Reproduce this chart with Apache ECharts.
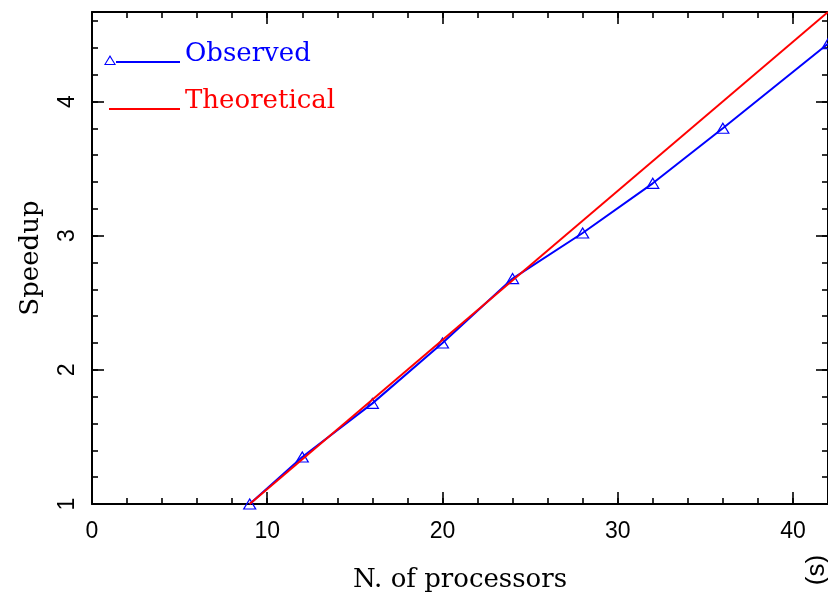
<!DOCTYPE html>
<html><head><meta charset="utf-8">
<script src="https://cdn.jsdelivr.net/npm/echarts@6/dist/echarts.min.js"></script>
<style>html,body{margin:0;padding:0;background:#fff}#c{width:828px;height:598px}</style>
</head><body><div id="c"></div>
<script>
// ---- data ----
const processors = [9, 12, 16, 20, 24, 28, 32, 36, 42];
const observed = [1.0, 1.35, 1.75, 2.2, 2.68, 3.02, 3.39, 3.8, 4.43];
const theoreticalN = [9, 42];
const theoretical = [1.0, 4.667];
const xTickLabels = ['0', '10', '20', '30', '40'];
const yTickLabels = ['1', '2', '3', '4'];
const seriesNames = ['Observed', 'Theoretical'];

const BLUE = '#0000ff', RED = '#ff0000';
const SANS = 'Liberation Sans', SERIF = 'DejaVu Serif';
const X_MIN = 0, X_MAX = 42, Y_MIN = 1, Y_MAX = 4.667;

function pairs(xs, ys) { return xs.map((x, i) => [x, ys[i]]); }

function axisBase(pos, isMajor, extra) {
  return Object.assign({
    type: 'value', position: pos, gridIndex: 0,
    axisLine: { show: isMajor, onZero: false, lineStyle: { color: '#000', width: 2 } },
    axisTick: { show: true, inside: true, length: isMajor ? 12 : 6, lineStyle: { color: '#000', width: 1.6 } },
    axisLabel: { show: false },
    splitLine: { show: false }, minorTick: { show: false }
  }, extra);
}

const chart = echarts.init(document.getElementById('c'), null, { renderer: 'canvas' });

const obsIcon = 'path://M0 0 M0 22 M6 12 L12 22 L0 22 Z M6 14.2 L1.8 21 L10.2 21 Z M12 18.1 L76 18.1 L76 19.9 L12 19.9 Z';
const theoIcon = 'path://M0 0 M0 22 M5 18.1 L76 18.1 L76 19.9 L5 19.9 Z';

chart.setOption({
  animation: false,
  backgroundColor: '#fff',
  grid: { left: 92, right: -3, top: 12, bottom: 93, containLabel: false },
  legend: {
    orient: 'vertical', left: 99, top: 36,
    itemWidth: 76, itemHeight: 22, itemGap: 21,
    selectedMode: false,
    textStyle: { fontFamily: SERIF, fontSize: 26, lineHeight: 22 },
    data: [
      { name: seriesNames[0], icon: obsIcon, itemStyle: { color: BLUE, borderWidth: 0 }, textStyle: { color: BLUE } },
      { name: seriesNames[1], icon: theoIcon, itemStyle: { color: RED, borderWidth: 0 }, textStyle: { color: RED } }
    ]
  },
  xAxis: [
    axisBase('bottom', true, {
      min: X_MIN, max: X_MAX, interval: 10,
      name: 'N. of processors', nameLocation: 'middle', nameGap: 63,
      nameTextStyle: { fontFamily: SERIF, fontSize: 26, color: '#000' },
      axisLabel: { show: true, margin: 16, fontFamily: SANS, fontSize: 23, color: '#000', showMaxLabel: false,
        formatter: v => xTickLabels.includes(String(v)) ? String(v) : '' }
    }),
    axisBase('bottom', false, { min: X_MIN, max: X_MAX, interval: 2 }),
    axisBase('top', true, { min: X_MIN, max: X_MAX, interval: 10 }),
    axisBase('top', false, { min: X_MIN, max: X_MAX, interval: 2 })
  ],
  yAxis: [
    axisBase('left', true, {
      min: Y_MIN, max: Y_MAX, interval: 1,
      name: 'Speedup', nameLocation: 'middle', nameGap: 48,
      nameTextStyle: { fontFamily: SERIF, fontSize: 26, color: '#000' },
      axisLabel: { show: true, rotate: 90, margin: 13, fontFamily: SANS, fontSize: 23, color: '#000', showMaxLabel: false,
        formatter: v => yTickLabels.includes(String(v)) ? String(v) : '' }
    }),
    axisBase('left', false, { min: Y_MIN, max: Y_MAX, interval: 0.2 }),
    axisBase('right', true, { min: Y_MIN, max: Y_MAX, interval: 1 }),
    axisBase('right', false, { min: Y_MIN, max: Y_MAX, interval: 0.2 })
  ],
  series: [
    {
      name: seriesNames[0], type: 'line', xAxisIndex: 0, yAxisIndex: 0,
      data: pairs(processors, observed),
      symbol: 'triangle', symbolSize: [12, 10],
      itemStyle: { color: 'rgba(0,0,0,0)', borderColor: BLUE, borderWidth: 1.2 },
      lineStyle: { color: BLUE, width: 2 },
      clip: true, z: 2
    },
    {
      name: seriesNames[1], type: 'line', xAxisIndex: 0, yAxisIndex: 0,
      data: pairs(theoreticalN, theoretical),
      symbol: 'none', lineStyle: { color: RED, width: 2 },
      itemStyle: { color: RED },
      clip: true, z: 3
    }
  ],
  graphic: [
    { type: 'text', x: 817, y: 570, rotation: Math.PI / 2,
      style: { text: '(s)', font: '26px "Liberation Sans"', fill: '#000', align: 'center', verticalAlign: 'middle' } }
  ]
});
</script></body></html>
